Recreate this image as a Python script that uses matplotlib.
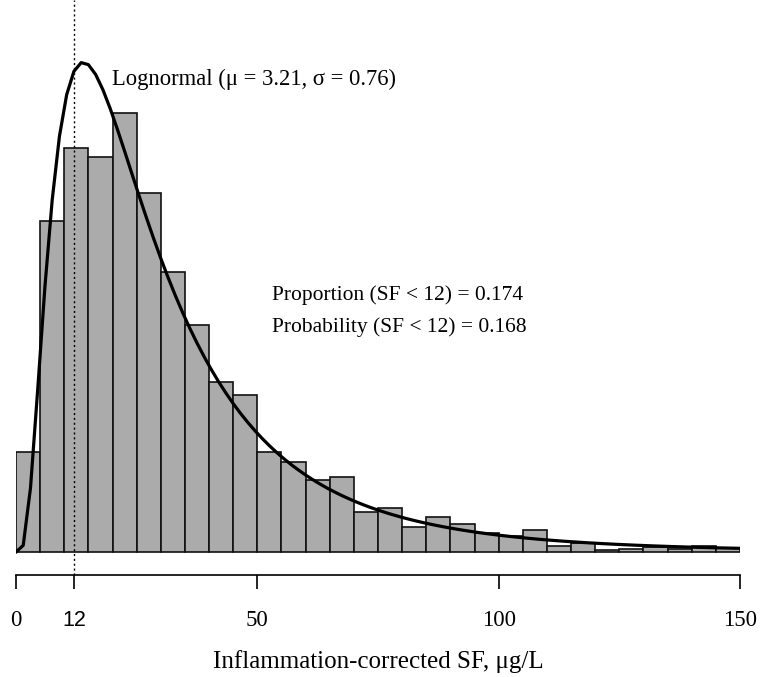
import matplotlib
matplotlib.use("Agg")
import matplotlib.pyplot as plt
import numpy as np

# histogram densities, bins of width 5 from 0 to 150
bin_edges = np.arange(0, 155, 5)
densities = [0.00577, 0.01911, 0.02333, 0.02281, 0.02535, 0.02073, 0.01617, 0.01311,
             0.00982, 0.00906, 0.00577, 0.00520, 0.00416, 0.00433, 0.00231, 0.00254,
             0.00144, 0.00202, 0.00162, 0.00110, 0.00092, 0.00127, 0.00035, 0.00052,
             0.00012, 0.00017, 0.00029, 0.00017, 0.00035, 0.00023]

mu, sigma = 3.21, 0.76
cutoff = 12
tick_vals = [0, 12, 50, 100, 150]
tick_labels = ["0", "12", "50", "100", "150"]

serif = "Liberation Serif"

fig = plt.figure(figsize=(7.6, 6.77), dpi=100)
# axes: bottom spine is the R-style axis line, baseline sits a bit above it
ax = fig.add_axes([16 / 760, 1 - 575 / 677, 724 / 760, 575 / 677])

ax.bar(bin_edges[:-1], densities, width=5, align="edge", color="#ababab",
       edgecolor="#111111", linewidth=1.2)

xs = np.linspace(0, 150, 101)
xs[0] = 1e-6
pdf = 1 / (xs * sigma * np.sqrt(2 * np.pi)) * np.exp(-(np.log(xs) - mu) ** 2 / (2 * sigma ** 2))
ax.plot(xs, pdf, color="black", lw=2.3)

ax.axvline(cutoff, color="black", lw=1.0, ls=(0, (1.5, 2)))

ax.text(19.9, 0.0273, "Lognormal (\u03bc = 3.21, \u03c3 = 0.76)", family=serif,
        fontsize=16.3, va="center", ha="left")
ax.text(53.0, 0.01485, "Proportion (SF < 12) = 0.174", family=serif,
        fontsize=15.5, va="center", ha="left")
ax.text(53.0, 0.01301, "Probability (SF < 12) = 0.168", family=serif,
        fontsize=15.5, va="center", ha="left")

ax.set_xlim(0, 150)
ax.set_ylim(-23 / 17320, 552 / 17320)

for s in ["top", "right", "left"]:
    ax.spines[s].set_visible(False)
ax.spines["bottom"].set_linewidth(1.2)
ax.set_yticks([])
ax.set_xticks(tick_vals)
ax.set_xticklabels(tick_labels)
ax.tick_params(axis="x", direction="out", length=10, width=1.2, pad=15, labelsize=16.5)
for lab in ax.get_xticklabels():
    if lab.get_text() == "12":
        lab.set_family("Liberation Sans")
        lab.set_fontsize(15.5)
    else:
        lab.set_family(serif)

ax.set_xlabel("Inflammation-corrected SF, \u03bcg/L", family=serif, fontsize=18, labelpad=14)

fig.savefig("out.png", dpi=100)
